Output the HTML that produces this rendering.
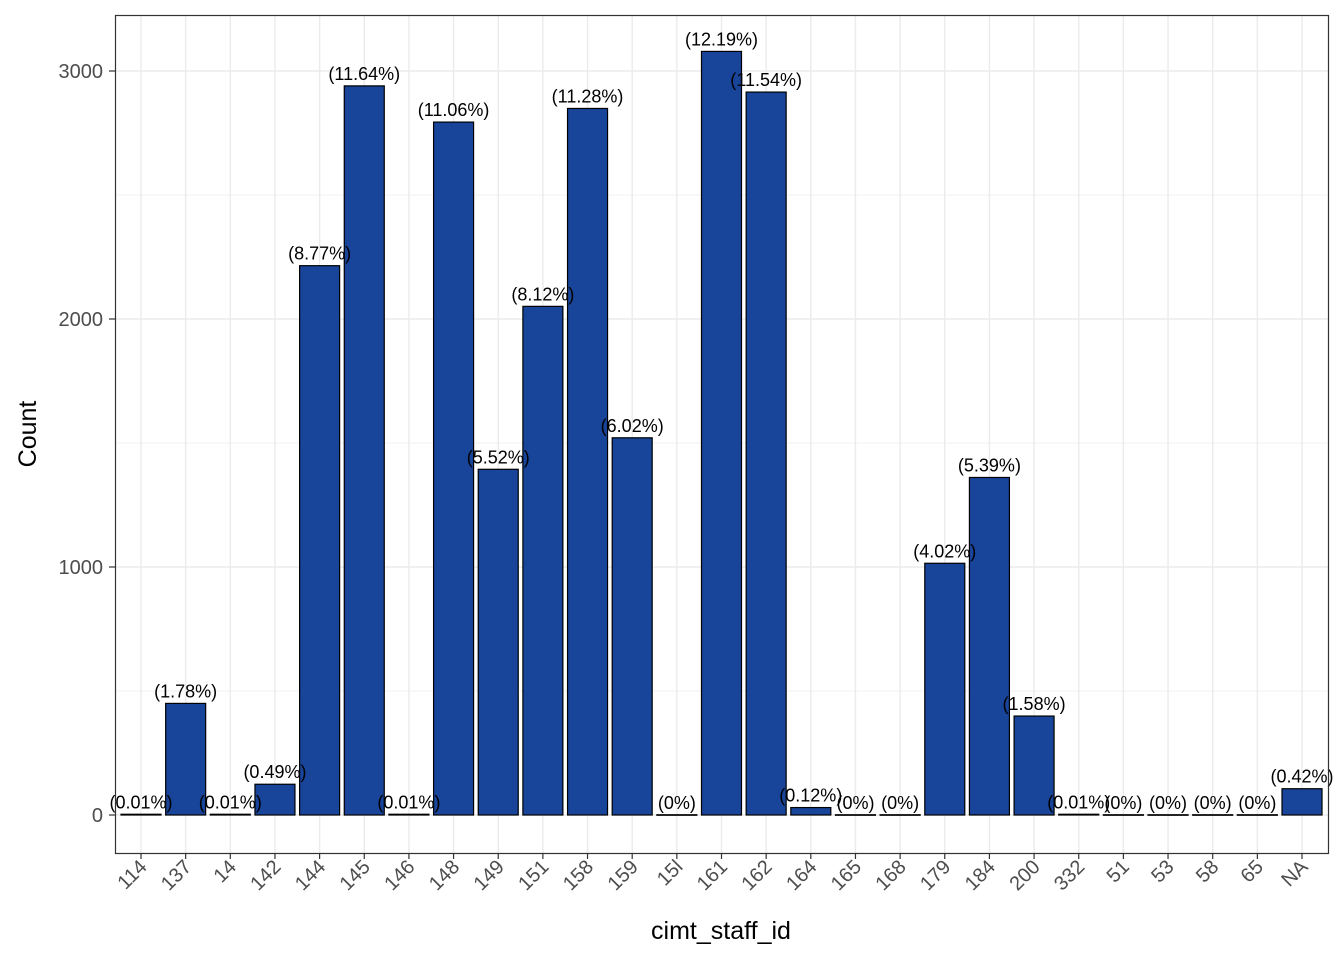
<!DOCTYPE html>
<html><head><meta charset="utf-8"><style>
body{margin:0;background:#fff;font-family:"Liberation Sans",Arial,sans-serif}
</style></head><body>
<svg id="chart" width="1344" height="960" xmlns="http://www.w3.org/2000/svg" font-family="Liberation Sans, Arial, sans-serif">
<rect width="1344" height="960" fill="#fff"/>
<g id="grid"></g><g id="bars"></g><g id="labels"></g>
<rect x="115.5" y="15.5" width="1213" height="838" fill="none" stroke="#333" stroke-width="1.2"/>
<g id="axes"></g>
<text transform="translate(36,434) rotate(-90)" text-anchor="middle" font-size="25" fill="#000">Count</text>
<text x="721" y="939" text-anchor="middle" font-size="25" fill="#000">cimt_staff_id</text>
</svg>
<script>
const categories=["114","137","14","142","144","145","146","148","149","151","158","159","15l","161","162","164","165","168","179","184","200","332","51","53","58","65","NA"];
const counts=[3,450,3,124,2215,2940,3,2794,1394,2051,2849,1521,1,3079,2915,30,1,1,1015,1361,399,3,1,1,1,1,106];
const pctLabels=["(0.01%)","(1.78%)","(0.01%)","(0.49%)","(8.77%)","(11.64%)","(0.01%)","(11.06%)","(5.52%)","(8.12%)","(11.28%)","(6.02%)","(0%)","(12.19%)","(11.54%)","(0.12%)","(0%)","(0%)","(4.02%)","(5.39%)","(1.58%)","(0.01%)","(0%)","(0%)","(0%)","(0%)","(0.42%)"];
const yTicks=[0,1000,2000,3000];
const NS="http://www.w3.org/2000/svg";
const x=i=>141+i*(1302-141)/(categories.length-1);
const y=v=>815-v*0.248;
function mk(p,t,a){const e=document.createElementNS(NS,t);for(const k in a)e.setAttribute(k,a[k]);p.appendChild(e);return e;}
const grid=document.getElementById('grid'),bars=document.getElementById('bars'),labels=document.getElementById('labels'),axes=document.getElementById('axes');
for(let v=-500;v<=3500;v+=500){const yy=y(v);if(yy<16||yy>853)continue;
 const l=mk(grid,'line',{x1:115,x2:1329,y1:yy,y2:yy,stroke:'#ebebeb','stroke-width':v%1000===0?1.4:0.7});
 
 }
categories.forEach((c,i)=>{const l=mk(grid,'line',{x1:x(i),x2:x(i),y1:16,y2:853,stroke:'#ebebeb','stroke-width':1.4});
 
 });
categories.forEach((c,i)=>{
 const top=y(counts[i]);
 const r=mk(bars,'rect',{x:x(i)-20,y:top,width:40,height:Math.max(815-top,0.5),fill:'#184499',stroke:'#000','stroke-width':1.2});
 
 
 const t=mk(labels,'text',{x:x(i),y:top-6,'text-anchor':'middle','font-size':18,fill:'#000'});t.textContent=pctLabels[i];
 
 
 mk(axes,'line',{x1:x(i),x2:x(i),y1:853,y2:859,stroke:'#333','stroke-width':1.2});
 const xt=mk(axes,'text',{transform:`translate(${x(i)+7},${868}) rotate(-45)`,'text-anchor':'end','font-size':20,fill:'#4d4d4d'});xt.textContent=c;
 
 
});
yTicks.forEach(v=>{mk(axes,'line',{x1:109,x2:115,y1:y(v),y2:y(v),stroke:'#333','stroke-width':1.2});
 const t=mk(axes,'text',{x:103,y:y(v)+7,'text-anchor':'end','font-size':20,fill:'#4d4d4d'});t.textContent=v;
 
 });
</script>
</body></html>
